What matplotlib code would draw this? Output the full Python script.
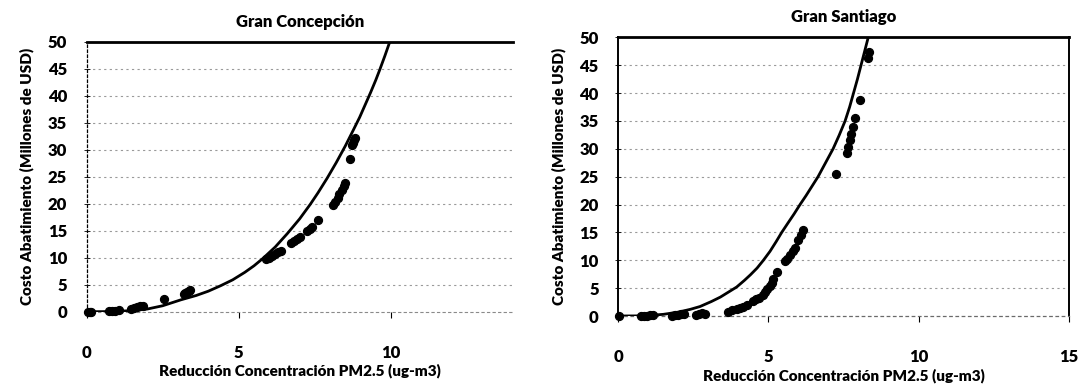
import matplotlib
matplotlib.use("Agg")
import matplotlib.pyplot as plt

plt.rcParams['font.family'] = ['Lato', 'DejaVu Sans']
plt.rcParams['font.weight'] = 'heavy'

# ---------------- Data: Gran Concepción ----------------
conc_x = [0.05, 0.1, 0.15, 0.75, 0.85, 0.95, 1.05, 1.45, 1.55, 1.65, 1.75, 1.85,
          2.53, 3.2, 3.25, 3.3, 3.35, 3.4, 5.9, 6.0, 6.1, 6.2, 6.3, 6.4,
          6.7, 6.8, 6.9, 7.0, 7.25, 7.35, 7.4, 7.59, 8.08, 8.15, 8.25, 8.3,
          8.4, 8.45, 8.5, 8.67, 8.72, 8.75, 8.8, 8.83]
conc_y = [0, 0, 0, 0.1, 0.15, 0.2, 0.25, 0.5, 0.6, 0.8, 1.0, 1.1,
          2.4, 3.2, 3.4, 3.6, 3.8, 4.0, 9.7, 10.0, 10.3, 10.6, 11.0, 11.2,
          12.7, 13.1, 13.4, 13.8, 14.9, 15.3, 15.7, 16.9, 19.8, 20.4, 21.0, 21.8,
          22.5, 23.2, 23.9, 28.3, 30.8, 31.3, 31.8, 32.2]
conc_curve_x = [0, 0.5, 0.9, 1.5, 2.0, 2.5, 3.1, 3.6, 4.0, 4.4, 4.8, 5.2, 5.5, 5.8,
                6.2, 6.6, 7.0, 7.35, 7.6, 7.9, 8.2, 8.5, 8.75, 8.97, 9.15, 9.33,
                9.5, 9.63, 9.8, 9.93, 10.05]
conc_curve_y = [0, 0.01, 0.05, 0.2, 0.5, 1.1, 2.2, 3.0, 3.8, 4.8, 5.9, 7.3, 8.5, 9.9,
                12.0, 14.5, 17.2, 19.9, 22.0, 24.7, 27.6, 30.7, 33.5, 36.0, 38.3, 40.6,
                42.9, 44.8, 47.4, 49.5, 51.5]

# ---------------- Data: Gran Santiago ----------------
sant_x = [0.02, 0.75, 0.85, 0.95, 1.05, 1.15, 1.8, 1.9, 2.0, 2.1, 2.2,
          2.6, 2.7, 2.8, 2.9, 3.65, 3.8, 3.95, 4.05, 4.15, 4.27,
          4.5, 4.6, 4.7, 4.83, 4.9, 4.95, 5.05, 5.1, 5.16, 5.27,
          5.55, 5.62, 5.7, 5.8, 5.87, 5.99, 6.08, 6.16, 7.24,
          7.6, 7.65, 7.7, 7.75, 7.8, 7.88, 8.04, 8.3, 8.33]
sant_y = [0, 0, 0.05, 0.05, 0.1, 0.1, 0.05, 0.1, 0.2, 0.3, 0.4,
          0.2, 0.3, 0.5, 0.4, 0.8, 1.0, 1.2, 1.4, 1.6, 2.0,
          2.7, 3.0, 3.3, 3.8, 4.3, 4.8, 5.4, 6.0, 6.6, 7.9,
          9.8, 10.2, 11.0, 11.6, 12.2, 13.6, 14.6, 15.4, 25.5,
          29.3, 30.4, 31.5, 32.7, 33.9, 35.5, 38.7, 46.3, 47.3]
sant_curve_x = [0, 0.6, 1.0, 1.5, 2.0, 2.4, 2.72, 3.1, 3.4, 3.7, 3.94, 4.2, 4.4, 4.62,
                4.83, 5.05, 5.25, 5.44, 5.65, 5.85, 6.05, 6.25, 6.45, 6.65, 6.9,
                7.15, 7.35, 7.55, 7.7, 7.83, 7.96, 8.08, 8.2, 8.32, 8.4]
sant_curve_y = [0, 0.02, 0.09, 0.3, 0.7, 1.2, 1.7, 2.6, 3.4, 4.4, 5.2, 6.4, 7.4, 8.6,
                10.0, 11.6, 13.3, 15.0, 16.7, 18.3, 20.0, 21.6, 23.3, 25.0, 27.5,
                30.0, 32.4, 35.0, 37.5, 40.0, 42.5, 45.0, 47.5, 50.0, 51.6]

titles = ["Gran Concepción", "Gran Santiago"]
xlabel = "Reducción Concentración PM2.5 (ug-m3)"
ylabel = "Costo Abatimiento (Millones de USD)"
y_ticks = [0, 5, 10, 15, 20, 25, 30, 35, 40, 45, 50]

fig = plt.figure(figsize=(10.79, 3.85), dpi=100)

axL = fig.add_axes([0.0802, 0.1904, 0.395, 0.701])
axR = fig.add_axes([0.573, 0.1792, 0.4177, 0.7239])

panels = [
    (axL, conc_x, conc_y, conc_curve_x, conc_curve_y, 14, [0, 5, 10], titles[0]),
    (axR, sant_x, sant_y, sant_curve_x, sant_curve_y, 15, [0, 5, 10, 15], titles[1]),
]

for ax, sx, sy, cx, cy, xmax, xt, title in panels:
    ax.set_xlim(0, xmax)
    ax.set_ylim(0, 50)
    ax.set_yticks(y_ticks)
    ax.set_xticks(xt)
    for yv in y_ticks[1:-1]:
        ax.axhline(yv, color='#9a9a9a', lw=0.8, ls=(0, (2, 3)), zorder=1)
    ax.scatter(sx, sy, s=32, color='black', zorder=3, clip_on=False)
    ax.plot(cx, cy, color='black', lw=2.0, zorder=4, solid_capstyle='round',
            solid_joinstyle='round')
    ax.set_title(title, fontsize=12, fontweight='heavy', pad=11)
    ax.set_xlabel(xlabel, fontsize=11, fontweight='heavy', labelpad=2)
    ax.set_ylabel(ylabel, fontsize=11, fontweight='heavy', labelpad=10)
    ax.tick_params(axis='x', direction='out', length=4, width=0.8, pad=20, labelsize=12)
    ax.tick_params(axis='y', direction='inout', length=4, width=0.6, pad=12, labelsize=12)
    for lab in ax.get_xticklabels() + ax.get_yticklabels():
        lab.set_fontweight('heavy')

# Left panel spines
axL.spines['top'].set_linewidth(2.0)
axL.spines['right'].set_visible(False)
axL.spines['left'].set_linestyle((0, (2, 2)))
axL.spines['left'].set_linewidth(0.9)
axL.spines['bottom'].set_linestyle((0, (2, 3)))
axL.spines['bottom'].set_color('#8a8a8a')
axL.spines['bottom'].set_linewidth(0.8)

# Right panel spines
axR.spines['top'].set_linewidth(2.0)
axR.spines['right'].set_linewidth(1.4)
axR.spines['left'].set_linewidth(1.4)
axR.spines['bottom'].set_linestyle((0, (2, 3)))
axR.spines['bottom'].set_color('#6a6a6a')
axR.spines['bottom'].set_linewidth(0.9)

fig.savefig("out.png", dpi=100)
